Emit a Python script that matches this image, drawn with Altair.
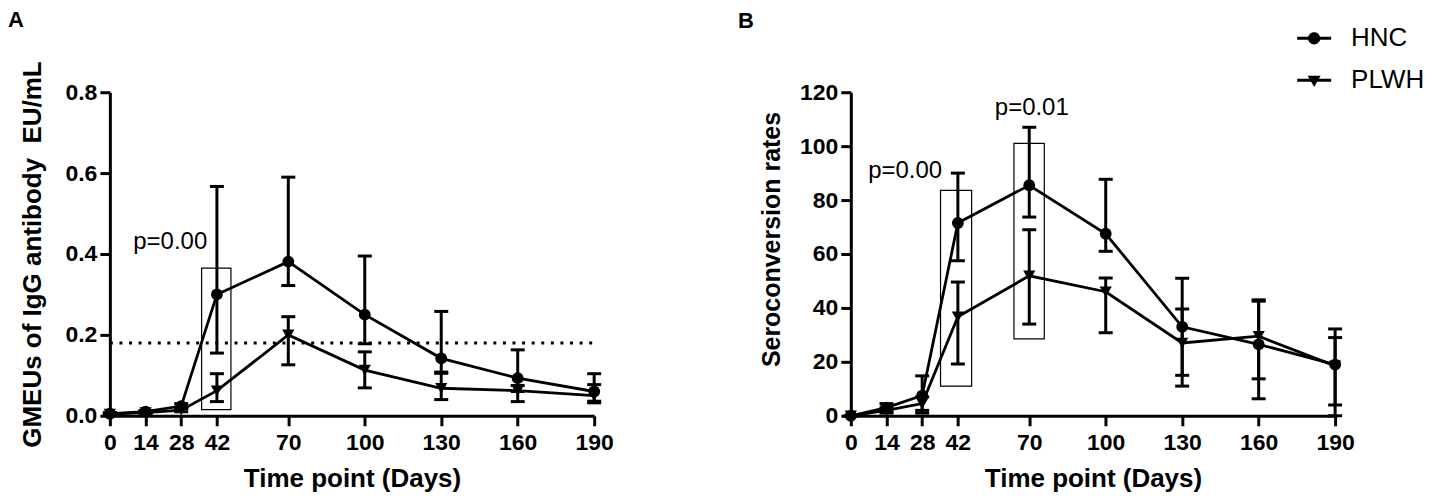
import altair as alt
import pandas as pd

FONT = "Liberation Sans"

days = [0, 14, 28, 42, 70, 100, 130, 160, 190]
groups = ["HNC", "PLWH"]

# Panel A: GMEUs of IgG antibody (EU/mL)
a_hnc = [0.005, 0.010, 0.024, 0.300, 0.381, 0.250, 0.142, 0.093, 0.060]
a_hnc_lo = [0.003, 0.007, 0.018, 0.155, 0.322, 0.178, 0.108, 0.060, 0.036]
a_hnc_hi = [0.008, 0.013, 0.030, 0.567, 0.590, 0.395, 0.258, 0.163, 0.104]
a_plwh = [0.004, 0.008, 0.014, 0.062, 0.200, 0.113, 0.068, 0.062, 0.050]
a_plwh_lo = [0.002, 0.006, 0.010, 0.035, 0.126, 0.069, 0.040, 0.035, 0.032]
a_plwh_hi = [0.006, 0.010, 0.018, 0.104, 0.245, 0.158, 0.105, 0.075, 0.077]

# Panel B: Seroconversion rates
b_hnc = [0, 3.0, 7.5, 71.5, 85.5, 67.5, 33.0, 26.5, 19.0]
b_hnc_lo = [0, 1.5, 1.0, 57.5, 73.7, 61.0, 15.0, 6.3, 4.0]
b_hnc_hi = [0, 4.5, 14.8, 90.0, 107.0, 87.7, 51.0, 42.5, 32.2]
b_plwh = [0, 2.0, 4.5, 36.7, 51.9, 46.0, 27.0, 29.5, 18.5]
b_plwh_lo = [0, 1.0, 2.0, 19.2, 34.0, 30.8, 11.0, 13.7, 0.0]
b_plwh_hi = [0, 3.0, 7.0, 49.6, 69.0, 51.1, 39.6, 43.0, 29.0]

# Annotations (boxes and p-values)
a_box_x = [36.0]
a_box_x2 = [47.5]
a_box_y = [0.015]
a_box_y2 = [0.365]
a_p_x = [23.7]
a_p_y = [0.43]
a_p_text = ["p=0.00"]
a_cutoff = 0.18

b_box_x = [35.2, 64.0]
b_box_x2 = [47.4, 75.9]
b_box_y = [11.0, 28.5]
b_box_y2 = [83.6, 101.0]
b_p_x = [21.3, 71.0]
b_p_y = [90.7, 114.0]
b_p_text = ["p=0.00", "p=0.01"]

x_ticks = days
K = 0.1988
R = 0.36
PATH_HNC = ("M-1,-0.085L1,-0.085L1,0.085L-1,0.085Z "
            f"M{R},0C{R},{K} {K},{R} 0,{R}C{-K},{R} {-R},{K} {-R},0"
            f"C{-R},{-K} {-K},{-R} 0,{-R}C{K},{-R} {R},{-K} {R},0Z")
PATH_PLWH = ("M-1,-0.085L1,-0.085L1,0.085L-1,0.085Z "
             "M-0.38,-0.26L0.38,-0.26L0,0.40Z")


def frame(h, hl, hh, p, pl, ph):
    rows = []
    for i, d in enumerate(days):
        rows.append({"day": d, "group": "HNC", "v": h[i], "lo": hl[i], "hi": hh[i]})
        rows.append({"day": d, "group": "PLWH", "v": p[i], "lo": pl[i], "hi": ph[i]})
    return pd.DataFrame(rows)


dfA = frame(a_hnc, a_hnc_lo, a_hnc_hi, a_plwh, a_plwh_lo, a_plwh_hi)
dfB = frame(b_hnc, b_hnc_lo, b_hnc_hi, b_plwh, b_plwh_lo, b_plwh_hi)

W, H = 485, 324


def xenc():
    return alt.X("day:Q", scale=alt.Scale(domain=[0, 190], nice=False, zero=False),
                 axis=alt.Axis(values=x_ticks, title="Time point (Days)", labelPadding=6,
                               titlePadding=11, titleFontSize=26, labelFlush=False,
                               labelOverlap=False, grid=False))


def panel(df, ydom, yvals, yfmt, ytitle, box, ptxt, letter, legend, cutoff=None,
          titlepad=16, tdx=-102, toff=44, tdy=0, ytsize=26, ytitle_y=None):
    yscale = alt.Scale(domain=ydom, nice=False, zero=True)
    ax_kw = dict(values=yvals, format=yfmt, title=ytitle, labelPadding=3,
                 titlePadding=titlepad, titleFontSize=ytsize, grid=False)
    if ytitle_y is not None:
        ax_kw["titleY"] = ytitle_y
    yaxis = alt.Axis(**ax_kw)
    base = alt.Chart(df)
    layers = []
    if cutoff is not None:
        cdf = pd.DataFrame({"x0": [0], "x1": [190], "y": [cutoff]})
        layers.append(alt.Chart(cdf).mark_rule(color="black", strokeWidth=3, strokeDash=[3, 6.6])
                      .encode(x=alt.X("x0:Q", scale=alt.Scale(domain=[0, 190], nice=False)),
                              x2="x1:Q", y=alt.Y("y:Q", scale=yscale, axis=yaxis)))
    bdf = pd.DataFrame({"x": box[0], "x2": box[1], "y": box[2], "y2": box[3]})
    layers.append(alt.Chart(bdf).mark_rect(filled=False, color="black", strokeWidth=1.2)
                  .encode(x="x:Q", x2="x2:Q", y="y:Q", y2="y2:Q"))
    tdf = pd.DataFrame({"x": ptxt[0], "y": ptxt[1], "t": ptxt[2]})
    layers.append(alt.Chart(tdf).mark_text(font=FONT, fontSize=24, color="black",
                                           align="center", baseline="middle")
                  .encode(x="x:Q", y="y:Q", text="t:N"))
    layers.append(base.mark_line(color="black", strokeWidth=2.8)
                  .encode(x=xenc(), y=alt.Y("v:Q", scale=yscale, axis=yaxis), detail="group:N"))
    layers.append(base.mark_rule(color="black", strokeWidth=3, opacity=1)
                  .encode(x="day:Q", y="lo:Q", y2="hi:Q", detail="group:N"))
    layers.append(base.mark_tick(color="black", orient="horizontal", size=14, thickness=3,
                                 opacity=1)
                  .encode(x="day:Q", y="lo:Q"))
    layers.append(base.mark_tick(color="black", orient="horizontal", size=14, thickness=3,
                                 opacity=1)
                  .encode(x="day:Q", y="hi:Q"))
    shape_scale = alt.Scale(domain=groups, range=["circle", "triangle-down"])
    hnc = base.transform_filter(alt.datum.group == "HNC")
    plwh = base.transform_filter(alt.datum.group == "PLWH")
    if legend:
        leg_common = dict(title=None, orient="none", symbolSize=1156, symbolStrokeWidth=0,
                          labelFont=FONT, labelFontSize=26, labelColor="black",
                          labelOffset=20, padding=0)
        hcol = alt.Color("group:N", scale=alt.Scale(domain=["HNC"], range=["black"]),
                         legend=alt.Legend(symbolType=PATH_HNC, legendX=447, legendY=-71,
                                           **leg_common))
        pfill = alt.Fill("group:N", scale=alt.Scale(domain=["PLWH"], range=["black"]),
                         legend=alt.Legend(symbolType=PATH_PLWH, legendX=447, legendY=-29,
                                           **leg_common))
    else:
        hcol = alt.value("black")
        pfill = alt.value("black")
    layers.append(hnc.mark_point(filled=True, size=140, opacity=1)
                  .encode(x="day:Q", y="v:Q",
                          shape=alt.Shape("group:N", scale=shape_scale, legend=None),
                          color=hcol))
    layers.append(plwh.mark_point(filled=True, size=150, opacity=1)
                  .encode(x="day:Q", y="v:Q",
                          shape=alt.Shape("group:N", scale=shape_scale, legend=None),
                          fill=pfill))
    return alt.layer(*layers).properties(
        width=W, height=H,
        title=alt.TitleParams(text=letter, anchor="start", frame="group", dx=tdx, dy=tdy,
                              offset=toff, fontSize=22, fontWeight="bold", font=FONT,
                              color="black"))


chartA = panel(dfA, [0, 0.8], [0, 0.2, 0.4, 0.6, 0.8], ".1f",
               "GMEUs of IgG antibody\u00a0 EU/mL",
               (a_box_x, a_box_x2, a_box_y, a_box_y2), (a_p_x, a_p_y, a_p_text),
               "A", legend=False, cutoff=a_cutoff, titlepad=19, tdx=-102, toff=29,
               ytsize=26)
chartB = panel(dfB, [0, 120], [0, 20, 40, 60, 80, 100, 120], "d",
               "Seroconversion rates",
               (b_box_x, b_box_x2, b_box_y, b_box_y2), (b_p_x, b_p_y, b_p_text),
               "B", legend=True, titlepad=15, tdx=-113, toff=3, tdy=15,
               ytsize=25, ytitle_y=147)

chart = alt.hconcat(chartA, chartB, spacing=124).resolve_scale(
    color="independent", fill="independent", shape="independent"
).resolve_legend(color="independent", fill="independent").properties(padding=0).configure_view(
    stroke=None
).configure_axis(
    domainColor="black", domainWidth=3, tickColor="black", tickWidth=3, tickSize=10,
    labelFont=FONT, labelFontSize=23, labelFontWeight="bold", labelColor="black",
    titleFont=FONT, titleFontSize=25, titleFontWeight="bold", titleColor="black"
)

chart.save("out.html", embed_options={"renderer": "svg", "actions": False})
